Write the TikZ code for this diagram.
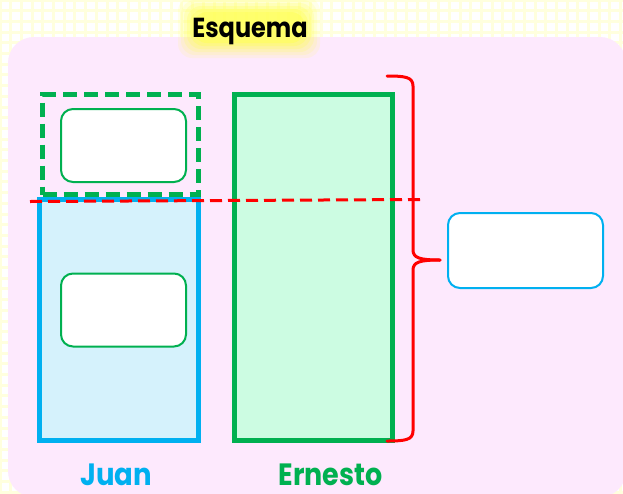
\documentclass[tikz,border=0pt]{standalone}
\usepackage{fontspec}
\setmainfont{Poppins}
\usetikzlibrary{calc}
\definecolor{pinkbg}{HTML}{FDE9FD}
\definecolor{gridy}{HTML}{FFFFDE}
\definecolor{cblue}{HTML}{00B0F0}
\definecolor{lblue}{HTML}{D5F2FC}
\definecolor{cgreen}{HTML}{00B050}
\definecolor{lgreen}{HTML}{CCFCE2}
\definecolor{cred}{HTML}{FF0000}
\definecolor{glow}{HTML}{FFFF55}
\tikzset{
  whitebox/.style={draw=cgreen, line width=2pt, fill=white, rounded corners=12pt},
  answerbox/.style={draw=cblue, line width=2pt, fill=white, rounded corners=12pt},
  label/.style={font=\bfseries\fontsize{27.5}{27.5}\selectfont, anchor=base, inner sep=0pt},
}
\begin{document}
\begin{tikzpicture}[x=1pt,y=-1pt]
\useasboundingbox (0,0) rectangle (623,493);
% grid background
\fill[white] (0,0) rectangle (623,493);
\draw[gridy, line width=3pt] (-2,-2) grid[step=10.7pt] (625,495);
% pink panel
\fill[pinkbg, rounded corners=26pt] (8,37) rectangle (626,497);
% glow behind title
\foreach \o/\k in {16/0.12,13/0.15,10/0.2,7/0.25,4/0.35,1/0.5}{
  \fill[glow, opacity=\k, rounded corners=14pt] (194-\o,13-\o) rectangle (304+\o,42+\o);
}
\node[font=\bfseries\fontsize{25}{25}\selectfont, anchor=base, inner sep=0pt] (title) at (250,37) {\scalebox{0.96}[1.1]{Esquema}};
% Juan rectangle
\node[draw=cblue, fill=lblue, line width=5pt, minimum width=159pt, minimum height=241pt, inner sep=0pt] (juan) at (119,320) {};
% dashed top part
\node[draw=cgreen, dash pattern=on 14pt off 7pt, line width=5pt, minimum width=156pt, minimum height=100pt, inner sep=0pt] (dash) at (120.5,144.5) {};
% Ernesto rectangle
\node[draw=cgreen, fill=lgreen, line width=5pt, minimum width=158pt, minimum height=346pt, inner sep=0pt] (ernesto) at (313.5,267.5) {};
% white boxes
\node[whitebox, minimum width=125pt, minimum height=73pt] (box1) at (123.5,145.5) {};
\node[whitebox, minimum width=125pt, minimum height=73pt] (box2) at (123.5,310) {};
\node[answerbox, minimum width=155pt, minimum height=75pt] (ans) at (525.5,250.5) {};
% red dashed line
\coordinate (dl) at (30,201.5);
\coordinate (dr) at (420,199.5);
\draw[cred, line width=3pt, dash pattern=on 12pt off 6pt] (dl) -- (dr);
% brace
\coordinate (bt) at (387,76);
\coordinate (bb) at (387,441);
\coordinate (tip) at (440,260);
\draw[cred, line width=3pt, line cap=round, line join=round]
  (bt) .. controls (405,76) and (413,77) .. (413,86) -- (413,250)
  .. controls (413,258) and (420,260) .. (tip);
\draw[cred, line width=3pt, line cap=round, line join=round]
  (bb) .. controls (405,441) and (413,440) .. (413,431) -- (413,270)
  .. controls (413,262) and (420,260) .. (tip);
% labels
\node[label, text=cblue] (jl) at (116,485.5) {\scalebox{1}[1.12]{Juan}};
\node[label, text=cgreen] (el) at (330.5,485.5) {\scalebox{0.98}[1.12]{Ernesto}};
\end{tikzpicture}
\end{document}
